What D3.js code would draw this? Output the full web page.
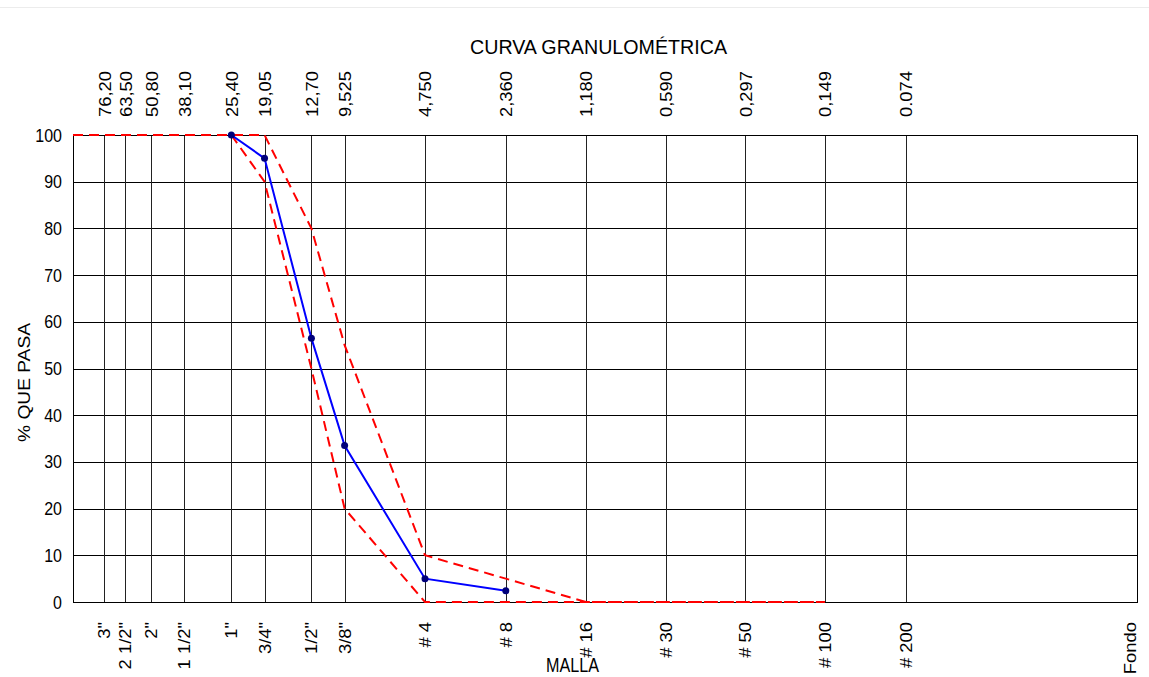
<!DOCTYPE html>
<html>
<head>
<meta charset="utf-8">
<script src="https://cdn.jsdelivr.net/npm/d3@7"></script>
<style>
  body { margin: 0; background: #fff; }
  text { font-family: "Liberation Sans", Arial, sans-serif; fill: #000; }
</style>
</head>
<body>
<script>
// sieve openings (mm) and their labels
var sizes = [76.2, 63.5, 50.8, 38.1, 25.4, 19.05, 12.7, 9.525, 4.75, 2.36, 1.18, 0.59, 0.297, 0.149, 0.074];
var sizeLabels = ["76,20", "63,50", "50,80", "38,10", "25,40", "19,05", "12,70", "9,525", "4,750", "2,360", "1,180", "0,590", "0,297", "0,149", "0.074"];
var meshLabels = ['3"', '2 1/2"', '2"', '1 1/2"', '1"', '3/4"', '1/2"', '3/8"', "# 4", "# 8", "# 16", "# 30", "# 50", "# 100", "# 200"];
var fondoSize = 0.01;
var yTicks = [0, 10, 20, 30, 40, 50, 60, 70, 80, 90, 100];

// sample curve (% passing)
var sampleSizes = [25.4, 19.05, 12.7, 9.525, 4.75, 2.36];
var samplePass = [100, 95, 56.5, 33.5, 5, 2.4];

// specification limits
var upperSizes = [100, 76.2, 63.5, 50.8, 38.1, 25.4, 19.05, 12.7, 9.525, 4.75, 2.36, 1.18, 0.59, 0.297, 0.149];
var upperPass = [100, 100, 100, 100, 100, 100, 100, 80, 55, 10, 5, 0, 0, 0, 0];
var lowerSizes = [25.4, 19.05, 12.7, 9.525, 4.75, 2.36, 1.18, 0.59, 0.297, 0.149];
var lowerPass = [100, 90, 50, 20, 0, 0, 0, 0, 0, 0];

function draw() {
  var W = 1149, H = 677;
  var pLeft = 73, pRight = 1137, pTop = 135, pBottom = 602;
  var k = 1.15; // vertical stretch of the text

  var svg = d3.select("body").append("svg")
    .attr("width", W).attr("height", H);

  // faint page line at top
  svg.append("line")
    .attr("x1", 0).attr("x2", W).attr("y1", 7.5).attr("y2", 7.5)
    .attr("stroke", "#ececec");

  var x = d3.scaleLog().domain([100, fondoSize]).range([pLeft, pRight]);
  var y = d3.scaleLinear().domain([0, 100]).range([pBottom, pTop]);

  // horizontal grid
  svg.selectAll(".hgrid").data(yTicks).enter().append("line")
    .attr("x1", pLeft).attr("x2", pRight)
    .attr("y1", function (d) { return Math.round(y(d)) + 0.5; })
    .attr("y2", function (d) { return Math.round(y(d)) + 0.5; })
    .attr("stroke", "#000").attr("stroke-width", 1);

  // vertical grid at each sieve
  svg.selectAll(".vgrid").data(sizes).enter().append("line")
    .attr("x1", function (d) { return Math.round(x(d)) + 0.5; })
    .attr("x2", function (d) { return Math.round(x(d)) + 0.5; })
    .attr("y1", pTop).attr("y2", pBottom)
    .attr("stroke", "#222").attr("stroke-width", 1);

  // plot border
  svg.append("rect")
    .attr("x", pLeft + 0.5).attr("y", pTop + 0.5)
    .attr("width", pRight - pLeft).attr("height", pBottom - pTop)
    .attr("fill", "none").attr("stroke", "#000");

  // y tick labels
  svg.selectAll(".ylab").data(yTicks).enter().append("text")
    .attr("transform", function (d) { return "translate(62," + (y(d) + 6.5) + ") scale(1," + k + ")"; })
    .attr("text-anchor", "end")
    .style("font-size", "16px")
    .text(function (d) { return d; });

  // top labels (mm)
  svg.selectAll(".toplab").data(sizes).enter().append("text")
    .attr("transform", function (d) { return "translate(" + (x(d) + 6.5) + ",117) scale(1," + k + ") rotate(-90)"; })
    .attr("text-anchor", "start")
    .style("font-size", "16px")
    .text(function (d, i) { return sizeLabels[i]; });

  // bottom labels (mesh)
  var meshSizes = sizes.concat([fondoSize]);
  var meshText = meshLabels.concat(["Fondo"]);
  svg.selectAll(".botlab").data(meshSizes).enter().append("text")
    .attr("transform", function (d) {
      var xx = d === fondoSize ? x(d) - 1 : x(d) + 6;
      return "translate(" + xx + ",622) scale(1," + k + ") rotate(-90)";
    })
    .attr("text-anchor", "end")
    .style("font-size", "16px")
    .text(function (d, i) { return meshText[i]; });

  // titles
  svg.append("text")
    .attr("x", 470).attr("y", 54)
    .attr("textLength", 257).attr("lengthAdjust", "spacingAndGlyphs")
    .style("font-size", "21px")
    .text("CURVA GRANULOMÉTRICA");

  svg.append("text")
    .attr("x", 546).attr("y", 672)
    .attr("textLength", 53).attr("lengthAdjust", "spacingAndGlyphs")
    .style("font-size", "20px")
    .text("MALLA");

  svg.append("text")
    .attr("transform", "translate(30,382.5) rotate(-90)")
    .attr("text-anchor", "middle")
    .attr("textLength", 119).attr("lengthAdjust", "spacingAndGlyphs")
    .style("font-size", "17px")
    .text("% QUE PASA");

  // lines
  var line = d3.line()
    .x(function (d) { return x(d[0]); })
    .y(function (d) { return y(d[1]); });

  svg.append("path")
    .datum(d3.zip(upperSizes, upperPass))
    .attr("d", line)
    .attr("fill", "none").attr("stroke", "#ff0000")
    .attr("stroke-width", 2).attr("stroke-dasharray", "10,6");

  svg.append("path")
    .datum(d3.zip(lowerSizes, lowerPass))
    .attr("d", line)
    .attr("fill", "none").attr("stroke", "#ff0000")
    .attr("stroke-width", 2).attr("stroke-dasharray", "10,6");

  var sample = d3.zip(sampleSizes, samplePass);
  svg.append("path")
    .datum(sample)
    .attr("d", line)
    .attr("fill", "none").attr("stroke", "#0000ff")
    .attr("stroke-width", 2);

  svg.selectAll(".pt").data(sample).enter().append("circle")
    .attr("cx", function (d) { return x(d[0]); })
    .attr("cy", function (d) { return y(d[1]); })
    .attr("r", 3.5)
    .attr("fill", "#00007a");
}

draw();
</script>
</body>
</html>
